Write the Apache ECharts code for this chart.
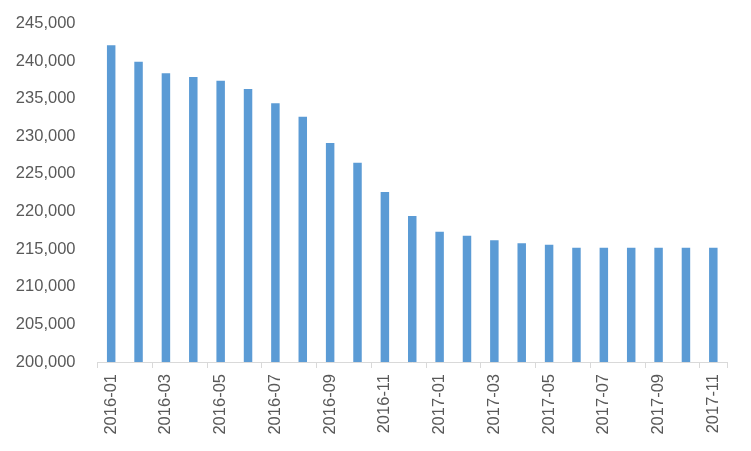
<!DOCTYPE html>
<html>
<head>
<meta charset="utf-8">
<script src="https://cdn.jsdelivr.net/npm/echarts@6/dist/echarts.min.js"></script>
<style>html,body{margin:0;padding:0;background:#fff}#c{width:751px;height:451px}</style>
</head>
<body>
<div id="c"></div>
<script>
const categories = ["2016-01","2016-02","2016-03","2016-04","2016-05","2016-06","2016-07","2016-08","2016-09","2016-10","2016-11","2016-12","2017-01","2017-02","2017-03","2017-04","2017-05","2017-06","2017-07","2017-08","2017-09","2017-10","2017-11"];
const values = [242100,239900,238400,237900,237400,236300,234400,232600,229100,226500,222600,219400,217300,216800,216200,215800,215600,215200,215200,215200,215200,215200,215200];
const yMin = 200000, yMax = 245000, yStep = 5000;

const chart = echarts.init(document.getElementById('c'), null, {renderer:'canvas'});
const font = "'Liberation Sans', Arial, sans-serif";
chart.setOption({
  animation: false,
  backgroundColor: '#ffffff',
  grid: {left: 97.5, right: 24, top: 23.5, bottom: 89, containLabel: false},
  xAxis: {
    type: 'category',
    data: categories,
    boundaryGap: true,
    axisLine: {show: true, lineStyle: {color: '#D9D9D9', width: 1}},
    axisTick: {show: true, interval: 1, length: 6, lineStyle: {color: '#D9D9D9'}},
    axisLabel: {interval: 1, rotate: 90, margin: 12, color: '#595959', fontSize: 16.5, fontFamily: font}
  },
  yAxis: {
    type: 'value',
    min: yMin, max: yMax, interval: yStep,
    axisLine: {show: false},
    axisTick: {show: false},
    splitLine: {show: false},
    axisLabel: {margin: 22, color: '#595959', fontSize: 16.5, fontFamily: font,
      formatter: v => v.toLocaleString('en-US')}
  },
  series: [{
    type: 'bar',
    data: values,
    barWidth: '31%',
    itemStyle: {color: '#5B9BD5'}
  }]
});
</script>
</body>
</html>
